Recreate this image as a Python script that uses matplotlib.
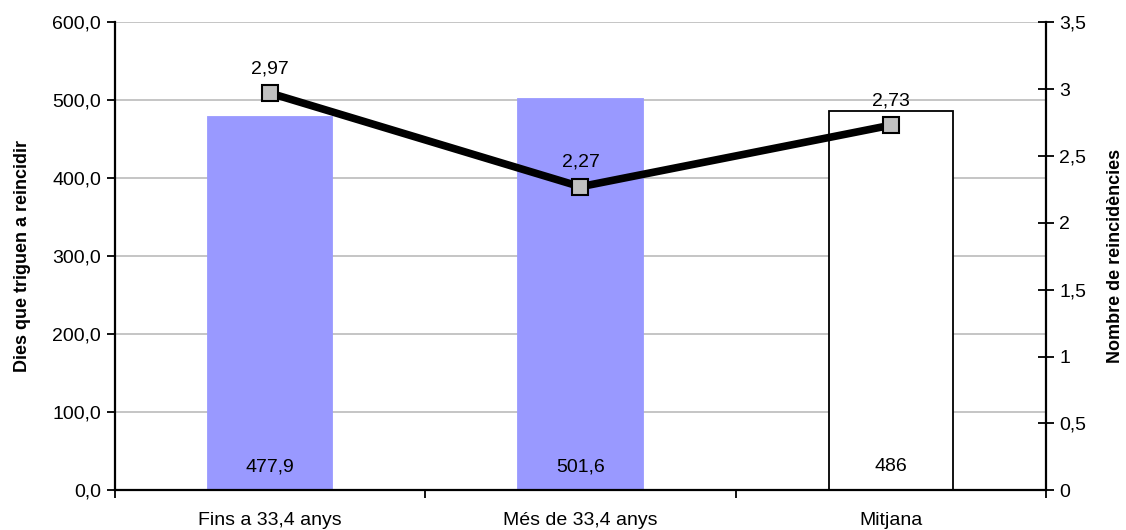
import matplotlib
matplotlib.use("Agg")
from matplotlib import pyplot as plt
from matplotlib.ticker import FuncFormatter

plt.rcParams['font.family'] = ['Liberation Sans', 'DejaVu Sans']

# data
categories = ['Fins a 33,4 anys', 'Més de 33,4 anys', 'Mitjana']
dies = [477.9, 501.6, 486]
dies_labels = ['477,9', '501,6', '486']
reincidencies = [2.97, 2.27, 2.73]
bar_colors = ['#9999FF', '#9999FF', 'white']
bar_edges = ['#9999FF', '#9999FF', 'black']

FS = 14      # tick and value labels
FS_AX = 13   # axis titles

fig = plt.figure(figsize=(11.26, 5.3), dpi=100)
ax = fig.add_axes([0.102, 0.075, 0.827, 0.883])
ax2 = ax.twinx()

x = list(range(len(categories)))
ax.bar(x, dies, width=0.4, color=bar_colors, edgecolor=bar_edges, linewidth=1.3, zorder=2)
for xi, lab in zip(x, dies_labels):
    ax.text(xi, 30, lab, ha='center', va='center', fontsize=FS, zorder=3)

ax.set_xlim(-0.5, 2.5)
ax.set_ylim(0, 600)
ax.set_yticks(range(0, 601, 100))
ax.yaxis.set_major_formatter(FuncFormatter(lambda v, p: f'{v:.1f}'.replace('.', ',')))
ax.grid(axis='y', color='#c0c0c0', linewidth=1.3, zorder=0)
ax.set_axisbelow(True)
ax.set_xticks(x)
ax.set_xticklabels(categories)
ax.tick_params(axis='x', length=0, pad=16, labelsize=FS)
# category boundary ticks
ax.set_xticks([-0.5, 0.5, 1.5, 2.5], minor=True)
ax.tick_params(axis='x', which='minor', length=6, width=1.3, direction='out')
ax.tick_params(axis='y', length=6, width=1.3, direction='out', labelsize=FS, pad=4)
ax.set_ylabel('Dies que triguen a reincidir', fontsize=FS_AX, fontweight='bold', labelpad=15)

for s in ['left', 'bottom']:
    ax.spines[s].set_linewidth(1.6)
ax.spines['top'].set_visible(False)
ax.spines['right'].set_visible(False)

ax2.plot(x, reincidencies, color='black', linewidth=5.5, marker='s', markersize=11,
         markerfacecolor='#c0c0c0', markeredgecolor='black', markeredgewidth=1.5, zorder=4)
for xi, v in zip(x, reincidencies):
    ax2.text(xi, v + 0.12, f'{v:.2f}'.replace('.', ','), ha='center', va='bottom', fontsize=FS)
ax2.set_ylim(0, 3.5)
ax2.set_yticks([0, 0.5, 1, 1.5, 2, 2.5, 3, 3.5])
ax2.yaxis.set_major_formatter(FuncFormatter(lambda v, p: f'{v:g}'.replace('.', ',')))
ax2.tick_params(axis='y', length=11, width=1.3, direction='inout', labelsize=FS, pad=4)
ax2.set_ylabel('Nombre de reincidències', fontsize=FS_AX, fontweight='bold', labelpad=15)
ax2.spines['right'].set_linewidth(1.6)
ax2.spines['top'].set_visible(False)
ax2.spines['left'].set_visible(False)
ax2.spines['bottom'].set_visible(False)

fig.savefig('out.png', dpi=100)
